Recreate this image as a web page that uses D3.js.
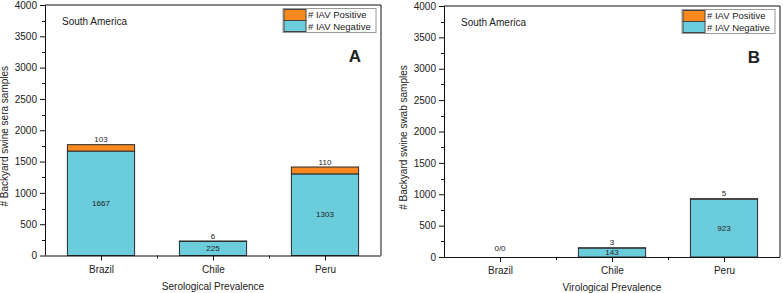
<!DOCTYPE html>
<html>
<head>
<meta charset="utf-8">
<script src="https://cdn.jsdelivr.net/npm/d3@7"></script>
<style>
  html, body { margin: 0; padding: 0; background: #fff; }
  svg { display: block; }
  text { font-family: "Liberation Sans", Arial, sans-serif; fill: #222; }
</style>
</head>
<body>
<svg id="chart" width="783" height="293"></svg>
<script>
// ---- data ----
const categories = ["Brazil", "Chile", "Peru"];
const seroNegative = [1667, 225, 1303];
const seroPositive = [103, 6, 110];
const viroNegative = [0, 143, 923];
const viroPositive = [0, 3, 5];
const viroHasData = [false, true, true];
const yTickValues = [0, 500, 1000, 1500, 2000, 2500, 3000, 3500, 4000];
const seriesNames = ["# IAV Positive", "# IAV Negative"];
const panelLetters = ["A", "B"];
const xTitles = ["Serological Prevalence", "Virological Prevalence"];
const yTitles = ["# Backyard swine sera samples", "# Backyard swine swab samples"];
const regionLabel = "South America";

const colPos = "#F7891F";
const colNeg = "#6BCCDB";
const stroke = "#2b2b2b";

const svg = d3.select("#chart");

function panel(cfg) {
  const {left, right, top, bottom, negative, positive, hasData, letter, xTitle, yTitle} = cfg;
  const g = svg.append("g");

  const xc = d3.scalePoint().domain(categories).range([left, right]).padding(0.5);
  const y = d3.scaleLinear().domain([0, 4000]).range([bottom, top]);

  // frame (top and right)
  g.append("line").attr("x1", left).attr("x2", right).attr("y1", top).attr("y2", top)
    .attr("stroke", "#111").attr("stroke-width", 1);
  g.append("line").attr("x1", right).attr("x2", right).attr("y1", top).attr("y2", bottom)
    .attr("stroke", "#111").attr("stroke-width", 1);

  // bars
  const bw = xc.step() * 0.6;
  categories.forEach((c, i) => {
    if (!hasData[i]) return;
    const cx = xc(c);
    const n = negative[i], p = positive[i];
    g.append("rect").attr("x", cx - bw / 2).attr("width", bw)
      .attr("y", y(n)).attr("height", y(0) - y(n))
      .attr("fill", colNeg).attr("stroke", stroke).attr("stroke-width", 1);
    g.append("rect").attr("x", cx - bw / 2).attr("width", bw)
      .attr("y", y(n + p)).attr("height", y(n) - y(n + p))
      .attr("fill", colPos).attr("stroke", stroke).attr("stroke-width", 1);
    // labels
    g.append("text").attr("x", cx).attr("y", (y(0) + y(n)) / 2).attr("dy", "0.35em")
      .attr("text-anchor", "middle").attr("font-size", 8).text(n);
    g.append("text").attr("x", cx).attr("y", y(n + p) - 2.5)
      .attr("text-anchor", "middle").attr("font-size", 8).text(p);
  });
  categories.forEach((c, i) => {
    if (hasData[i]) return;
    g.append("text").attr("x", xc(c)).attr("y", y(0) - 6)
      .attr("text-anchor", "middle").attr("font-size", 8).text("0/0");
  });

  // y axis
  const yMinor = d3.range(250, 4000, 500);
  const ya = g.append("g").attr("transform", `translate(${left},0)`);
  ya.call(d3.axisLeft(y).tickValues(yTickValues).tickSize(5).tickPadding(3).tickFormat(d3.format("d")));
  ya.selectAll(".tick text").attr("font-size", 10).attr("fill", "#222").style("font-family", "Liberation Sans, Arial, sans-serif");
  ya.select(".domain").attr("stroke", "#111").attr("d", `M0.5,${bottom}V${top}`);
  ya.selectAll(".tick line").attr("stroke", "#111");
  ya.selectAll(".minor").data(yMinor).enter().append("line").attr("class", "minor")
    .attr("x1", 0).attr("x2", -3).attr("y1", d => Math.round(y(d)) + 0.5).attr("y2", d => Math.round(y(d)) + 0.5)
    .attr("stroke", "#111");

  // x axis
  const xa = g.append("g").attr("transform", `translate(0,${bottom})`);
  xa.call(d3.axisBottom(xc).tickSize(5).tickPadding(5));
  xa.selectAll(".tick text").attr("font-size", 10).attr("fill", "#222").style("font-family", "Liberation Sans, Arial, sans-serif");
  xa.select(".domain").attr("stroke", "#111").attr("d", `M${left},0.5H${right}`);
  xa.selectAll(".tick line").attr("stroke", "#111");
  const bounds = categories.slice(0, -1).map(c => xc(c) + xc.step() / 2);
  xa.selectAll(".minor").data(bounds).enter().append("line").attr("class", "minor")
    .attr("x1", d => Math.round(d) + 0.5).attr("x2", d => Math.round(d) + 0.5).attr("y1", 0).attr("y2", 3)
    .attr("stroke", "#111");

  // titles
  g.append("text").attr("x", (left + right) / 2).attr("y", bottom + 34)
    .attr("text-anchor", "middle").attr("font-size", 10).text(xTitle);
  g.append("text").attr("transform", `translate(${left - 37},${(top + bottom) / 2 + 6}) rotate(-90)`)
    .attr("text-anchor", "middle").attr("font-size", 10).text(yTitle);

  g.append("text").attr("x", left + 17).attr("y", top + 20).attr("font-size", 10).text(regionLabel);
  g.append("text").attr("x", right - 20).attr("y", top + 57).attr("text-anchor", "end")
    .attr("font-size", 17).attr("font-weight", "bold").attr("fill", "#000").text(letter);

  // legend
  const lw = 93, lh = 24;
  const lx = right - 5 - lw, ly = top + 3.5;
  const lg = g.append("g");
  lg.append("rect").attr("x", lx).attr("y", ly).attr("width", lw).attr("height", lh)
    .attr("fill", "#fff").attr("stroke", "#999").attr("stroke-width", 1);
  [colPos, colNeg].forEach((col, i) => {
    lg.append("rect").attr("x", lx + 1).attr("y", ly + 1 + i * 11).attr("width", 22).attr("height", 11)
      .attr("fill", col).attr("stroke", "#444").attr("stroke-width", 1);
    lg.append("text").attr("x", lx + 25).attr("y", ly + 6.5 + i * 11.5).attr("dy", "0.35em")
      .attr("font-size", 9.5).text(seriesNames[i]);
  });
}

panel({left: 45, right: 381, top: 5, bottom: 255.5, negative: seroNegative, positive: seroPositive,
  hasData: [true, true, true], letter: panelLetters[0], xTitle: xTitles[0], yTitle: yTitles[0]});
panel({left: 444, right: 780, top: 6, bottom: 257, negative: viroNegative, positive: viroPositive,
  hasData: viroHasData, letter: panelLetters[1], xTitle: xTitles[1], yTitle: yTitles[1]});
</script>
</body>
</html>
